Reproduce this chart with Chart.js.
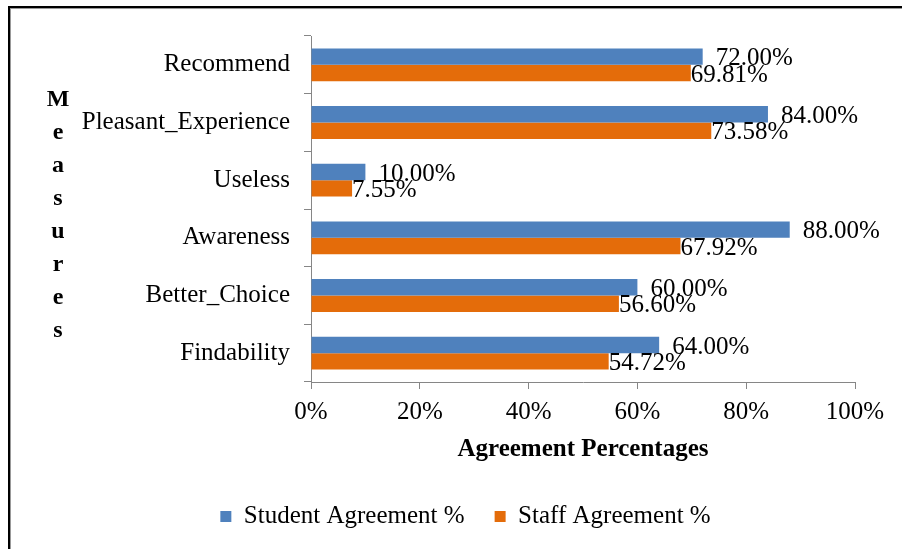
<!DOCTYPE html>
<html>
<head>
<meta charset="utf-8">
<script src="https://cdn.jsdelivr.net/npm/chart.js@4"></script>
<style>
html, body { margin: 0; padding: 0; background: #fff; }
#wrap { position: relative; width: 902px; height: 549px; overflow: hidden; }
#frame {
    position: absolute; left: 8px; top: 6px; width: 1000px; height: 1000px;
    border-top: 2px solid #000; border-left: 2px solid #000;
    box-shadow: inset 1px 1px 0 #999;
}
#chart { position: absolute; left: 0; top: 0; }
</style>
</head>
<body>
<div id="wrap">
    <div id="frame"></div>
    <canvas id="chart" width="902" height="549"></canvas>
</div>
<script>
// ===== 数据 =====
const categories = ['Recommend', 'Pleasant_Experience', 'Useless', 'Awareness', 'Better_Choice', 'Findability'];
const studentValues = [72.00, 84.00, 10.00, 88.00, 60.00, 64.00];
const staffValues = [69.81, 73.58, 7.55, 67.92, 56.60, 54.72];
const xTickValues = [0, 20, 40, 60, 80, 100];
const seriesNames = ['Student Agreement %', 'Staff Agreement %'];
const xAxisTitle = 'Agreement Percentages';
const yAxisTitle = 'Measures';

const SERIF = '"Liberation Serif", "Times New Roman", serif';
Chart.defaults.font.family = SERIF;
Chart.defaults.color = '#000';

// 柱末端数值标签
const barLabels = {
    id: 'barLabels',
    afterDatasetsDraw(chart) {
        const ctx = chart.ctx;
        ctx.save();
        ctx.font = '25px ' + SERIF;
        ctx.fillStyle = '#000';
        ctx.textAlign = 'left';
        ctx.textBaseline = 'middle';
        chart.data.datasets.forEach((ds, i) => {
            const meta = chart.getDatasetMeta(i);
            meta.data.forEach((bar, j) => {
                const gap = i === 0 ? 13 : 0;
                ctx.fillText(ds.data[j].toFixed(2) + '%', bar.x + gap, bar.y + 2);
            });
        });
        ctx.restore();
    }
};

// 竖排的纵轴标题（逐字母）
const stackedTitle = {
    id: 'stackedTitle',
    afterDraw(chart) {
        const ctx = chart.ctx;
        const area = chart.chartArea;
        const step = 33;
        const letters = yAxisTitle.split('');
        const mid = (area.top + area.bottom) / 2 + 6;
        const start = mid - (letters.length - 1) * step / 2;
        ctx.save();
        ctx.font = 'bold 24px ' + SERIF;
        ctx.fillStyle = '#000';
        ctx.textAlign = 'center';
        ctx.textBaseline = 'middle';
        letters.forEach((ch, k) => ctx.fillText(ch, 58, start + k * step));
        ctx.restore();
    }
};

const ctx = document.getElementById('chart').getContext('2d');
new Chart(ctx, {
    type: 'bar',
    data: {
        labels: categories,
        datasets: [{
            label: seriesNames[0],
            data: studentValues,
            backgroundColor: '#4F81BD',
            borderWidth: 0
        }, {
            label: seriesNames[1],
            data: staffValues,
            backgroundColor: '#E46C0A',
            borderWidth: 0
        }]
    },
    options: {
        indexAxis: 'y',
        responsive: false,
        animation: false,
        categoryPercentage: 0.57,
        barPercentage: 1.0,
        layout: {
            padding: { left: 76, right: 47, top: 36, bottom: 10 }
        },
        plugins: {
            legend: {
                display: true,
                position: 'bottom',
                labels: {
                    boxWidth: 11,
                    boxHeight: 11,
                    padding: 30,
                    font: { size: 25 },
                    color: '#000'
                }
            },
            tooltip: { enabled: false }
        },
        scales: {
            x: {
                min: 0,
                max: 100,
                afterBuildTicks: function(scale) {
                    scale.ticks = xTickValues.map(v => ({ value: v }));
                },
                afterFit: function(scale) {
                    scale.height = 92;
                },
                grid: {
                    drawOnChartArea: false,
                    tickLength: 7,
                    color: '#868686'
                },
                border: { color: '#868686' },
                ticks: {
                    padding: 8,
                    font: { size: 25 },
                    color: '#000',
                    maxRotation: 0,
                    callback: function(value) {
                        return value + '%';
                    }
                },
                title: {
                    display: true,
                    text: xAxisTitle,
                    font: { size: 25, weight: 'bold' },
                    color: '#000',
                    padding: { top: 8, bottom: 9 }
                }
            },
            y: {
                afterFit: function(scale) {
                    scale.width = 235;
                },
                grid: {
                    drawOnChartArea: false,
                    offset: true,
                    tickLength: 7,
                    color: '#868686'
                },
                border: { color: '#868686' },
                ticks: {
                    padding: 14,
                    font: { size: 25 },
                    color: '#000'
                }
            }
        }
    },
    plugins: [barLabels, stackedTitle]
});
</script>
</body>
</html>
